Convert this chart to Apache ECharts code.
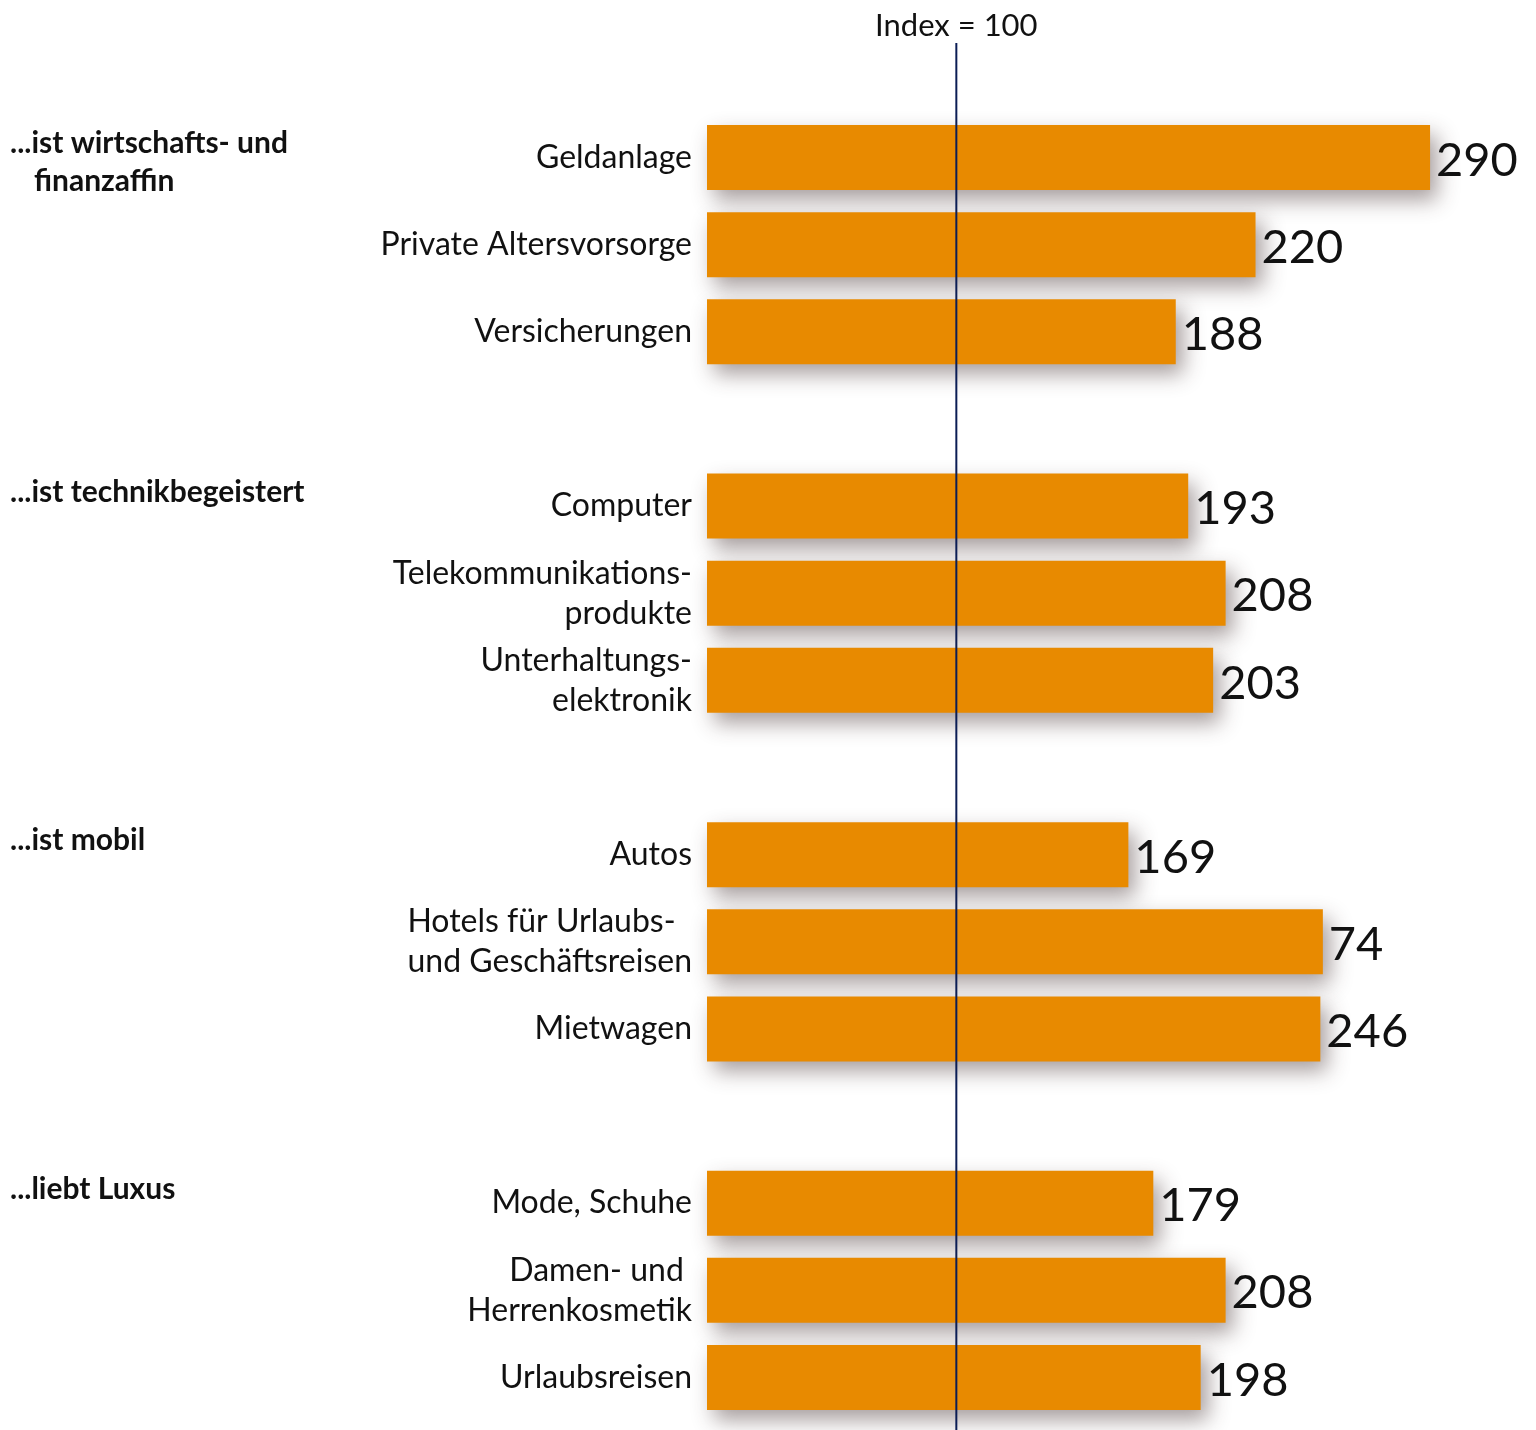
<!DOCTYPE html>
<html>
<head>
<meta charset="utf-8">
<script src="https://cdn.jsdelivr.net/npm/echarts@6/dist/echarts.min.js"></script>
<style>
html,body{margin:0;padding:0;background:#fff;}
#chart{width:1536px;height:1430px;}
</style>
</head>
<body>
<div id="chart"></div>
<script>
// ---- data ----
const groupTitles = ['...ist wirtschafts- und\nfinanzaffin', '...ist technikbegeistert', '...ist mobil', '...liebt Luxus'];
const groupCategories = [
  ['Geldanlage', 'Private Altersvorsorge', 'Versicherungen'],
  ['Computer', 'Telekommunikations-\nprodukte', 'Unterhaltungs-\nelektronik'],
  ['Autos', 'Hotels für Urlaubs-  \nund Geschäftsreisen', 'Mietwagen'],
  ['Mode, Schuhe', 'Damen- und \nHerrenkosmetik', 'Urlaubsreisen']
];
const groupValues = [
  [290, 220, 188],
  [193, 208, 203],
  [169, 247, 246],
  [179, 208, 198]
];
const groupValueLabels = [
  ['290', '220', '188'],
  ['193', '208', '203'],
  ['169', '74', '246'],
  ['179', '208', '198']
];
const indexValue = 100;
const indexLabel = 'Index = 100';

// ---- build category axis with blank gap slots between groups ----
const categories = [];
const seriesData = [];
const groupFirstIndex = [];
groupCategories.forEach((cats, g) => {
  if (g > 0) { categories.push(' ' + g); seriesData.push({ value: null, label: { show: false } }); }
  groupFirstIndex.push(categories.length);
  cats.forEach((c, i) => {
    categories.push(c);
    seriesData.push({ value: groupValues[g][i], valueLabel: groupValueLabels[g][i] });
  });
});

const FONT = 'Lato';
const chart = echarts.init(document.getElementById('chart'));
chart.setOption({
  animation: false,
  backgroundColor: '#ffffff',
  grid: { left: 707, right: 81, top: 114, bottom: 9, containLabel: false },
  xAxis: {
    type: 'value', min: 0, max: 300,
    show: false
  },
  yAxis: {
    type: 'category', inverse: true, data: categories,
    axisLine: { show: false }, axisTick: { show: false },
    axisLabel: {
      fontFamily: FONT, fontSize: 32, color: '#111', margin: 15, lineHeight: 40,
      align: 'right',
      formatter: v => (/^ \d$/.test(v) ? '' : v)
    }
  },
  series: [{
    type: 'bar',
    data: seriesData,
    barWidth: 65,
    itemStyle: {
      color: '#E88A00',
      shadowColor: 'rgba(60,40,40,0.45)',
      shadowBlur: 20, shadowOffsetX: 7, shadowOffsetY: 10
    },
    label: {
      show: true, position: 'right', distance: 6,
      fontFamily: FONT, fontSize: 47, color: '#111', offset: [0, 3],
      formatter: p => p.data.valueLabel
    },
    z: 2
  }]
});

// ---- overlay: index line and group titles positioned through the scales ----
const xIdx = chart.convertToPixel({ xAxisIndex: 0 }, indexValue);
const elements = [
  { type: 'line', z: 10, shape: { x1: xIdx, y1: 43, x2: xIdx, y2: 1430 },
    style: { stroke: '#0b1d55', lineWidth: 2 } },
  { type: 'text', z: 10, x: xIdx, y: 26,
    style: { text: indexLabel, fontFamily: FONT, fontSize: 31, fill: '#111', align: 'center', verticalAlign: 'middle' } }
];
groupTitles.forEach((t, g) => {
  const yc = chart.convertToPixel({ yAxisIndex: 0 }, categories[groupFirstIndex[g]]);
  t.split('\n').forEach((line, li) => {
    elements.push({ type: 'text', z: 10, x: li === 0 ? 10 : 34, y: yc - 14 + li * 38,
      style: { text: line, fontFamily: FONT, fontWeight: 'bold', fontSize: 30, fill: '#111', verticalAlign: 'middle' } });
  });
});
chart.setOption({ graphic: { elements } });
</script>
</body>
</html>
